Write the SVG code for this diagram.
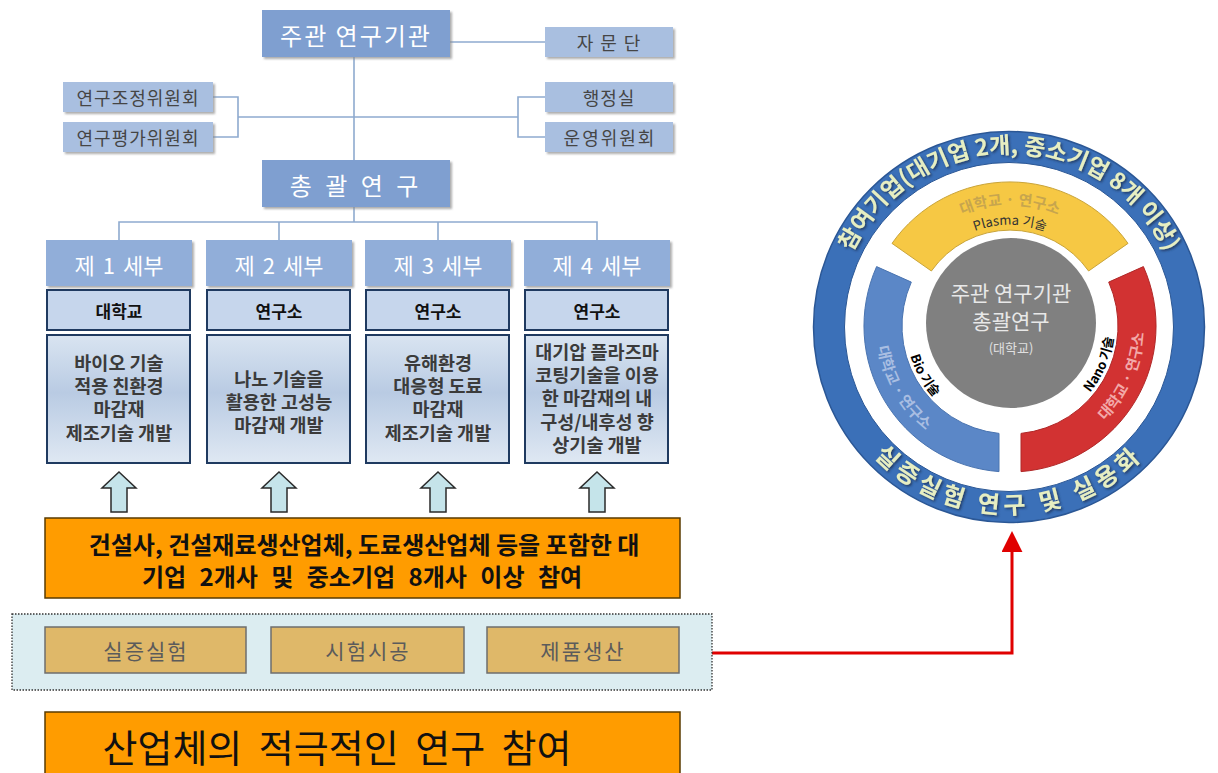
<svg xmlns="http://www.w3.org/2000/svg" xmlns:xlink="http://www.w3.org/1999/xlink" width="1218" height="773" viewBox="0 0 1218 773">
<style>
  text { font-family: "Noto Sans CJK KR", "Noto Sans", sans-serif; }
  .mid { text-anchor: middle; dominant-baseline: central; }
  .main { fill: #7f9fd0; filter: url(#sh); }
  .sub { fill: #a9bfe0; filter: url(#sh); }
  .hdr { fill: #91aed9; filter: url(#sh); }
  .w { fill: #ffffff; }
  .g { fill: #454545; }
  .inst { fill: #c6d6ec; stroke: #1f3a60; stroke-width: 2; }
  .desc { fill: url(#dg); stroke: #1f3a60; stroke-width: 2; }
  .dt { font-size: 18.5px; font-weight: bold; fill: #3b3b3b; }
  .conn { fill: none; stroke: #8eaacf; stroke-width: 1.6; }
  .tan { fill: #dfb869; stroke: #6e6e6e; stroke-width: 1.5; }
  .tt { font-size: 21px; fill: #5b5b5b; letter-spacing: 2px; }
  .orange { fill: #ff9c00; stroke: #5a3b00; stroke-width: 1.5; }
</style>
<defs>
  <filter id="sh" x="-10%" y="-10%" width="130%" height="140%">
    <feDropShadow dx="2" dy="2" stdDeviation="1.2" flood-color="#8a8a8a" flood-opacity="0.7"/>
  </filter>
  <filter id="tsh" x="-10%" y="-10%" width="120%" height="130%">
    <feDropShadow dx="1.5" dy="1.5" stdDeviation="0.8" flood-color="#1b355c" flood-opacity="0.9"/>
  </filter>
  <linearGradient id="dg" x1="0" y1="0" x2="0" y2="1">
    <stop offset="0" stop-color="#d9e4f1"/>
    <stop offset="0.45" stop-color="#b9cbe3"/>
    <stop offset="1" stop-color="#dfe8f3"/>
  </linearGradient>
  <path id="uparrow" d="M0 0 L17 16 L8 16 L8 40 L-8 40 L-8 16 L-17 16 Z" fill="#c5e4ea" stroke="#2a2a2a" stroke-width="1.5" stroke-linejoin="miter"/>
  <marker id="redhead" viewBox="0 0 10 10" refX="1" refY="5" markerWidth="7" markerHeight="7" orient="auto" markerUnits="strokeWidth">
    <path d="M0 0 L10 5 L0 10 Z" fill="#e00000"/>
  </marker>
  <path id="topTxt" d="M835.7 311.8 A174 174 0 0 1 1182.3 311.8"/>
  <path id="botTxt" d="M828.4 375.4 A187 187 0 0 0 1189.6 375.4"/>
  <path id="yTxt1" d="M932.2 233.3 A121 121 0 0 1 1087.8 233.3"/>
  <path id="yTxt2" d="M937.2 256.2 A100 100 0 0 1 1082.8 256.2"/>
  <path id="bTxt1" d="M884.1 280.2 A134 134 0 0 0 986.7 458.0"/>
  <path id="bTxt2" d="M912.3 290.4 A104 104 0 0 0 991.9 428.4"/>
  <path id="rTxt1" d="M1046.9 454.8 A134 134 0 0 0 1130.4 267.3"/>
  <path id="rTxt2" d="M1040.4 425.5 A104 104 0 0 0 1102.7 278.8"/>
</defs>

<rect x="0" y="0" width="1218" height="773" fill="#ffffff"/>

<!-- connectors -->
<g id="connectors">
  <path class="conn" d="M450 42 H545"/>
  <path class="conn" d="M354 57 V160"/>
  <path class="conn" d="M213 97 H238 V137 H213"/>
  <path class="conn" d="M238 117 H518"/>
  <path class="conn" d="M545 97 H518 V137 H545"/>
  <path class="conn" d="M354 207 V222"/>
  <path class="conn" d="M119 240 V222 H597 V240"/>
  <path class="conn" d="M279 222 V240"/>
  <path class="conn" d="M438 222 V240"/>
  <path d="M712 653 H1012 V550" fill="none" stroke="#e00000" stroke-width="3" marker-end="url(#redhead)"/>
</g>

<!-- org chart nodes -->
<g id="n-main">
  <rect class="main" x="262" y="10" width="188" height="47"/>
  <text class="mid w" x="356" y="34" font-size="24" letter-spacing="2">주관 연구기관</text>
</g>
<g id="n-advisory">
  <rect class="sub" x="545" y="27" width="128" height="30"/>
  <text class="mid g" x="612" y="42" font-size="18" letter-spacing="7">자문단</text>
</g>
<g id="n-coord">
  <rect class="sub" x="63" y="82" width="150" height="30"/>
  <text class="mid g" x="138" y="97" font-size="18" letter-spacing="1">연구조정위원회</text>
</g>
<g id="n-eval">
  <rect class="sub" x="63" y="122" width="150" height="30"/>
  <text class="mid g" x="138" y="137" font-size="18" letter-spacing="1">연구평가위원회</text>
</g>
<g id="n-admin">
  <rect class="sub" x="545" y="82" width="128" height="30"/>
  <text class="mid g" x="609" y="97" font-size="18" letter-spacing="1">행정실</text>
</g>
<g id="n-ops">
  <rect class="sub" x="545" y="122" width="128" height="30"/>
  <text class="mid g" x="610" y="137" font-size="18" letter-spacing="2">운영위원회</text>
</g>
<g id="n-general">
  <rect class="main" x="262" y="160" width="188" height="47"/>
  <text class="mid w" x="356" y="184" font-size="24" letter-spacing="4">총 괄 연 구</text>
</g>

<g id="n-sub1">
  <rect class="hdr" x="46" y="240" width="146" height="46"/>
  <text class="mid w" x="119" y="264" font-size="22" word-spacing="3">제 1 세부</text>
  <rect class="inst" x="47" y="290" width="143" height="40"/>
  <text class="mid" x="119" y="310" font-size="17" font-weight="bold" fill="#111">대학교</text>
  <rect class="desc" x="47" y="335" width="143" height="128"/>
  <text class="mid dt" x="119" y="362">바이오 기술</text>
  <text class="mid dt" x="119" y="385">적용 친환경</text>
  <text class="mid dt" x="119" y="408">마감재</text>
  <text class="mid dt" x="119" y="432">제조기술 개발</text>
</g>
<g id="n-sub2">
  <rect class="hdr" x="206" y="240" width="146" height="46"/>
  <text class="mid w" x="279" y="264" font-size="22" word-spacing="3">제 2 세부</text>
  <rect class="inst" x="207" y="290" width="143" height="40"/>
  <text class="mid" x="279" y="310" font-size="17" font-weight="bold" fill="#111">연구소</text>
  <rect class="desc" x="207" y="335" width="143" height="128"/>
  <text class="mid dt" x="279" y="378">나노 기술을</text>
  <text class="mid dt" x="279" y="401">활용한 고성능</text>
  <text class="mid dt" x="279" y="424">마감재 개발</text>
</g>
<g id="n-sub3">
  <rect class="hdr" x="365" y="240" width="146" height="46"/>
  <text class="mid w" x="438" y="264" font-size="22" word-spacing="3">제 3 세부</text>
  <rect class="inst" x="366" y="290" width="143" height="40"/>
  <text class="mid" x="438" y="310" font-size="17" font-weight="bold" fill="#111">연구소</text>
  <rect class="desc" x="366" y="335" width="143" height="128"/>
  <text class="mid dt" x="438" y="362">유해환경</text>
  <text class="mid dt" x="438" y="385">대응형 도료</text>
  <text class="mid dt" x="438" y="408">마감재</text>
  <text class="mid dt" x="438" y="432">제조기술 개발</text>
</g>
<g id="n-sub4">
  <rect class="hdr" x="524" y="240" width="146" height="46"/>
  <text class="mid w" x="597" y="264" font-size="22" word-spacing="3">제 4 세부</text>
  <rect class="inst" x="525" y="290" width="143" height="40"/>
  <text class="mid" x="597" y="310" font-size="17" font-weight="bold" fill="#111">연구소</text>
  <rect class="desc" x="525" y="335" width="143" height="128"/>
  <text class="mid dt" x="597" y="351">대기압 플라즈마</text>
  <text class="mid dt" x="597" y="374">코팅기술을 이용</text>
  <text class="mid dt" x="597" y="397">한 마감재의 내</text>
  <text class="mid dt" x="597" y="421">구성/내후성 향</text>
  <text class="mid dt" x="597" y="444">상기술 개발</text>
</g>

<g id="n-arrows">
  <use xlink:href="#uparrow" href="#uparrow" x="119" y="472"/>
  <use xlink:href="#uparrow" href="#uparrow" x="279" y="472"/>
  <use xlink:href="#uparrow" href="#uparrow" x="438" y="472"/>
  <use xlink:href="#uparrow" href="#uparrow" x="597" y="472"/>
</g>

<g id="n-companies">
  <rect class="orange" x="45" y="518" width="635" height="80"/>
  <text class="mid" x="364" y="543" font-size="24" font-weight="bold" fill="#111">건설사, 건설재료생산업체, 도료생산업체 등을 포함한 대</text>
  <text class="mid" x="362" y="575" font-size="24" font-weight="bold" fill="#111" word-spacing="8">기업 2개사 및 중소기업 8개사 이상 참여</text>
</g>

<g id="n-stages">
  <rect x="12" y="614" width="700" height="76" fill="#dcedf1" stroke="#333" stroke-width="1.3" stroke-dasharray="1.5 1.5"/>
  <g id="n-stage1">
    <rect class="tan" x="45" y="627" width="201" height="46"/>
    <text class="mid tt" x="146" y="650">실증실험</text>
  </g>
  <g id="n-stage2">
    <rect class="tan" x="271" y="627" width="193" height="46"/>
    <text class="mid tt" x="368" y="650">시험시공</text>
  </g>
  <g id="n-stage3">
    <rect class="tan" x="487" y="627" width="192" height="46"/>
    <text class="mid tt" x="583" y="650">제품생산</text>
  </g>
</g>

<g id="n-participation">
  <rect class="orange" x="45" y="712" width="635" height="62"/>
  <text class="mid" x="337" y="745" font-size="38" fill="#111" word-spacing="8">산업체의 적극적인 연구 참여</text>
</g>

<!-- circle diagram -->
<g id="n-ring">
  <circle cx="1009" cy="327" r="180" fill="#ffffff" stroke="#3b70b8" stroke-width="31"/>
  <circle cx="1009" cy="327" r="195.5" fill="none" stroke="#2b5795" stroke-width="1.5"/>
  <circle cx="1009" cy="327" r="164.5" fill="none" stroke="#2b5795" stroke-width="1"/>
  <text font-size="23" font-weight="bold" fill="#e6eec2" filter="url(#tsh)"><textPath href="#topTxt" xlink:href="#topTxt" startOffset="50%" text-anchor="middle">참여기업(대기업 2개, 중소기업 8개 이상)</textPath></text>
  <text font-size="24" font-weight="bold" fill="#e6eec2" letter-spacing="5" filter="url(#tsh)"><textPath href="#botTxt" xlink:href="#botTxt" startOffset="50%" text-anchor="middle">실증실험 연구 및 실용화</textPath></text>
</g>
<g id="n-plasma">
  <path d="M892.0 243.4 A144 144 0 0 1 1128.0 243.4 L1088.6 271.0 A96 96 0 0 0 931.4 271.0 Z" fill="#f6c844" stroke="#c9a43a" stroke-width="1"/>
  <text font-size="15" font-weight="bold" fill="#c7a54e"><textPath href="#yTxt1" xlink:href="#yTxt1" startOffset="50%" text-anchor="middle">대학교 · 연구소</textPath></text>
  <text font-size="13" fill="#333"><textPath href="#yTxt2" xlink:href="#yTxt2" startOffset="50%" text-anchor="middle">Plasma 기술</textPath></text>
</g>
<g id="n-bio">
  <path d="M876.6 266.6 A146 146 0 0 0 999 471.6 L999 433.4 A108 108 0 0 1 911.3 282.1 Z" fill="#5b87c7" stroke="#4a74b0" stroke-width="1"/>
  <text font-size="15" font-weight="bold" fill="#a9bee2"><textPath href="#bTxt1" xlink:href="#bTxt1" startOffset="50%" text-anchor="middle">대학교 · 연구소</textPath></text>
  <text font-size="13" font-weight="bold" fill="#000"><textPath href="#bTxt2" xlink:href="#bTxt2" startOffset="50%" text-anchor="middle">Bio 기술</textPath></text>
</g>
<g id="n-nano">
  <path d="M1143.4 266.6 A146 146 0 0 1 1021 471.6 L1021 433.4 A108 108 0 0 0 1108.7 282.1 Z" fill="#d23232" stroke="#b02828" stroke-width="1"/>
  <text font-size="15" font-weight="bold" fill="#f2a9a9"><textPath href="#rTxt1" xlink:href="#rTxt1" startOffset="50%" text-anchor="middle">대학교 · 연구소</textPath></text>
  <text font-size="13" font-weight="bold" fill="#000"><textPath href="#rTxt2" xlink:href="#rTxt2" startOffset="50%" text-anchor="middle">Nano 기술</textPath></text>
</g>
<g id="n-center">
  <circle cx="1011" cy="323" r="85" fill="#808080"/>
  <text class="mid" x="1011" y="292" font-size="21" fill="#e8e8e8">주관 연구기관</text>
  <text class="mid" x="1011" y="320" font-size="21" fill="#e8e8e8">총괄연구</text>
  <text class="mid" x="1011" y="347" font-size="13" fill="#e0e0e0">(대학교)</text>
</g>
</svg>
